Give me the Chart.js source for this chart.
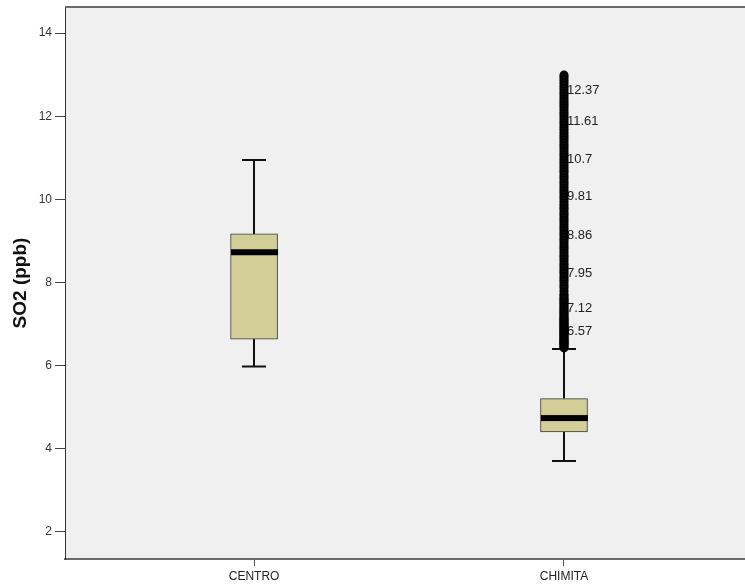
<!DOCTYPE html>
<html>
<head>
<meta charset="utf-8">
<title>SO2 (ppb)</title>
<script src="https://cdn.jsdelivr.net/npm/chart.js@4/dist/chart.umd.min.js"></script>
<style>
  html, body { margin: 0; padding: 0; background: #ffffff; }
  #wrap { width: 745px; height: 587px; }
</style>
</head>
<body>
<div id="wrap"><canvas id="chart" width="745" height="587"></canvas></div>
<script>
// Stations and their five-number summaries (SO2, ppb)
const categories   = ['CENTRO', 'CHIMITA'];
const whiskerLow   = [5.98, 3.71];
const quartile1    = [6.64, 4.41];
const medianValue  = [8.73, 4.74];
const quartile3    = [9.17, 5.21];
const whiskerHigh  = [10.95, 6.40];

// Outlying observations at CHIMITA
const chimitaOutliers = [
  6.43, 6.46, 6.49, 6.52, 6.55, 6.57, 6.60, 6.63, 6.66, 6.69, 6.72, 6.75, 6.78,
  6.81, 6.84, 6.87, 6.90, 6.93, 6.96, 6.99, 7.02, 7.05, 7.08, 7.12, 7.15, 7.19,
  7.23, 7.27, 7.31, 7.35, 7.40, 7.44, 7.49, 7.53, 7.58, 7.62, 7.67, 7.72, 7.80,
  7.88, 7.95, 8.02, 8.08, 8.14, 8.21, 8.27, 8.33, 8.40, 8.46, 8.53, 8.60, 8.66,
  8.73, 8.80, 8.86, 8.93, 9.00, 9.06, 9.13, 9.20, 9.27, 9.34, 9.41, 9.48, 9.55,
  9.62, 9.68, 9.75, 9.81, 9.88, 9.95, 10.02, 10.09, 10.16, 10.23, 10.30, 10.37,
  10.44, 10.51, 10.57, 10.64, 10.70, 10.77, 10.84, 10.91, 10.98, 11.05, 11.12,
  11.19, 11.26, 11.33, 11.40, 11.47, 11.54, 11.61, 11.68, 11.75, 11.82, 11.89,
  11.96, 12.03, 12.10, 12.17, 12.24, 12.30, 12.37, 12.44, 12.51, 12.58, 12.65,
  12.72, 12.79, 12.86, 12.93, 12.99
];
// Outliers that carry a value label
const labeledOutliers = [6.57, 7.12, 7.95, 8.86, 9.81, 10.7, 11.61, 12.37];

const yTicks = [2, 4, 6, 8, 10, 12, 14];

const FONT = "'Liberation Sans', Arial, sans-serif";
const BOX_FILL = '#d3ce97';

// Plot-area background and top frame line
const frame = {
  id: 'frame',
  beforeDraw(chart) {
    const { ctx, chartArea: a } = chart;
    ctx.save();
    ctx.fillStyle = '#f0f0f0';
    ctx.fillRect(a.left, a.top, a.right - a.left, a.bottom - a.top);
    ctx.restore();
  },
  afterDraw(chart) {
    const { ctx, chartArea: a } = chart;
    ctx.save();
    ctx.strokeStyle = '#6a6a6a';
    ctx.lineWidth = 2;
    ctx.beginPath();
    ctx.moveTo(a.left, a.top);
    ctx.lineTo(a.right, a.top);
    ctx.stroke();
    ctx.restore();
  }
};

// Whiskers, caps, medians and outlier value labels
const boxParts = {
  id: 'boxParts',
  beforeDatasetsDraw(chart) {
    const { ctx, scales: { x, y } } = chart;
    ctx.save();
    ctx.strokeStyle = '#111';
    ctx.lineWidth = 2;
    categories.forEach((c, i) => {
      const px = Math.round(x.getPixelForValue(i + 1));
      const lo = y.getPixelForValue(whiskerLow[i]);
      const hi = y.getPixelForValue(whiskerHigh[i]);
      const b1 = y.getPixelForValue(quartile1[i]);
      const b3 = y.getPixelForValue(quartile3[i]);
      ctx.beginPath();
      ctx.moveTo(px, b3); ctx.lineTo(px, hi);
      ctx.moveTo(px, b1); ctx.lineTo(px, lo);
      ctx.moveTo(px - 12, hi); ctx.lineTo(px + 12, hi);
      ctx.moveTo(px - 12, lo); ctx.lineTo(px + 12, lo);
      ctx.stroke();
    });
    // value labels sit under the outlier markers
    ctx.fillStyle = '#222';
    ctx.font = '13px ' + FONT;
    ctx.textAlign = 'left';
    ctx.textBaseline = 'middle';
    const ox = x.getPixelForValue(2);
    labeledOutliers.forEach(v => {
      ctx.fillText(String(v), ox + 3, y.getPixelForValue(v) - 11);
    });
    ctx.restore();
  },
  afterDatasetsDraw(chart) {
    const { ctx, scales: { x, y } } = chart;
    ctx.save();
    ctx.fillStyle = '#000';
    categories.forEach((c, i) => {
      const px = x.getPixelForValue(i + 1);
      const py = y.getPixelForValue(medianValue[i]);
      ctx.fillRect(px - 23, py - 3, 47, 6);
    });
    ctx.restore();
  }
};

new Chart(document.getElementById('chart'), {
  type: 'bar',
  data: {
    datasets: [
      {
        type: 'scatter',
        label: 'outliers',
        data: chimitaOutliers.map(v => ({ x: 2, y: v })),
        pointRadius: 4,
        pointStyle: 'circle',
        backgroundColor: '#0a0a0a',
        borderColor: '#000',
        borderWidth: 1.2,
        order: 0
      },
      {
        type: 'bar',
        label: 'box',
        data: categories.map((c, i) => ({ x: i + 1, y: [quartile1[i], quartile3[i]] })),
        backgroundColor: BOX_FILL,
        borderColor: '#3a3a3a',
        borderWidth: 1,
        borderSkipped: false,
        barThickness: 47,
        grouped: false,
        order: 1
      }
    ]
  },
  options: {
    responsive: false,
    animation: false,
    events: [],
    layout: { autoPadding: false, padding: { top: 7, right: 0, bottom: 0, left: 0 } },
    plugins: {
      legend: { display: false },
      tooltip: { enabled: false }
    },
    scales: {
      x: {
        type: 'linear',
        min: 0.39,
        max: 2.584,
        offset: false,
        afterBuildTicks(scale) {
          scale.ticks = categories.map((c, i) => ({ value: i + 1 }));
        },
        afterFit(scale) {
          scale.height = 28;
          scale.paddingLeft = 0;
          scale.paddingRight = 0;
        },
        ticks: {
          callback: v => categories[Math.round(v) - 1],
          font: { family: FONT, size: 12 },
          color: '#222',
          padding: 3,
          maxRotation: 0,
          autoSkip: false
        },
        grid: {
          offset: false,
          drawOnChartArea: false,
          drawTicks: true,
          tickLength: 7,
          color: '#555',
          lineWidth: 1
        },
        border: { display: true, color: '#6a6a6a', width: 2 }
      },
      y: {
        type: 'linear',
        min: 1.35,
        max: 14.63,
        afterBuildTicks(scale) {
          scale.ticks = yTicks.map(v => ({ value: v }));
        },
        afterFit(scale) {
          scale.width = 65;
          scale.paddingTop = 0;
          scale.paddingBottom = 0;
        },
        ticks: {
          font: { family: FONT, size: 12 },
          color: '#333',
          padding: 3
        },
        grid: {
          drawOnChartArea: false,
          drawTicks: true,
          tickLength: 10,
          color: '#444',
          lineWidth: 1
        },
        border: { display: true, color: '#333', width: 1 },
        title: {
          display: true,
          text: 'SO2 (ppb)',
          font: { family: FONT, size: 19, weight: 'bold' },
          color: '#111',
          padding: { top: 9, bottom: 0 }
        }
      }
    }
  },
  plugins: [frame, boxParts]
});
</script>
</body>
</html>
